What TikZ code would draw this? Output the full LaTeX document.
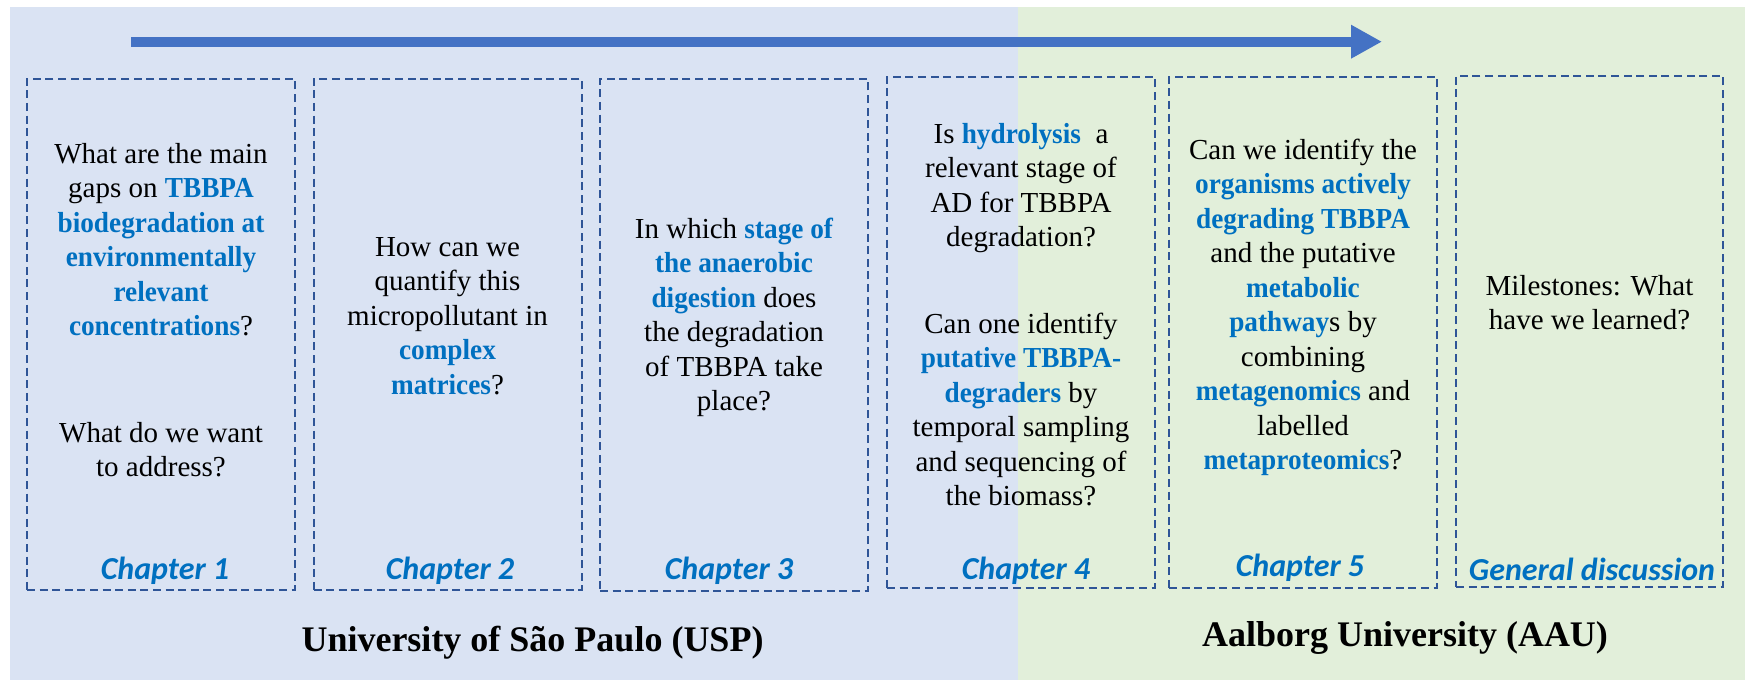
\documentclass[tikz,border=0pt]{standalone}
\usepackage{fontspec}
\setmainfont{Liberation Serif}
\newfontfamily\carl{Carlito}
\newfontfamily\hlfont{Liberation Serif}[FakeStretch=0.94]
\usetikzlibrary{arrows.meta}
\definecolor{bgblue}{RGB}{218,227,243}
\definecolor{bggreen}{RGB}{226,239,218}
\definecolor{arrowblue}{RGB}{68,114,196}
\definecolor{dashblue}{RGB}{47,85,151}
\definecolor{hl}{RGB}{0,112,192}
\newcommand{\hlt}[1]{\textcolor{hl}{\hlfont\bfseries #1}}
\begin{document}
\begin{tikzpicture}[x=0.5pt,y=-0.5pt,
  chbox/.style={draw=dashblue, line width=1pt, dash pattern=on 4pt off 2.3pt, minimum width=134pt, minimum height=255.5pt, inner sep=0pt},
  qtext/.style={align=center, font=\fontsize{14.5}{17.25}\selectfont, inner sep=0pt},
  chlabel/.style={font=\carl\bfseries\itshape\fontsize{16}{18}\selectfont, text=hl, inner sep=0pt},
  unilabel/.style={font=\bfseries\fontsize{18}{21}\selectfont, inner sep=0pt}]
\useasboundingbox (0,0) rectangle (1745,680);
% backgrounds
\fill[bgblue] (10,7) rectangle (1018,680);
\fill[bggreen] (1018,7) rectangle (1745,680);
% arrow
\coordinate (as) at (131,41.7);
\coordinate (ae) at (1382,41.7);
\draw[arrowblue, line width=5pt, -{Triangle[length=15.5pt,width=15.8pt]}] (as) -- (ae);
% boxes
\node[chbox] (b1) at (161,334.5) {};
\node[chbox] (b2) at (447.5,334.5) {};
\node[chbox, minimum height=256pt] (b3) at (734,335) {};
\node[chbox] (b4) at (1021,332.5) {};
\node[chbox] (b5) at (1303,332.5) {};
\node[chbox, minimum width=133.5pt] (b6) at (1589.5,331.5) {};
% texts
\node[qtext] (t1a) at (161,239.5) {What are the main\\gaps on \hlt{TBBPA}\\\hlt{biodegradation at}\\\hlt{environmentally}\\\hlt{relevant}\\\hlt{concentrations}?};
\node[qtext] (t1b) at (161,449.5) {What do we want\\to address?};
\node[qtext] (t2) at (447.5,316) {How can we\\quantify this\\micropollutant in\\\hlt{complex}\\\hlt{matrices}?};
\node[qtext] (t3) at (734,317.5) {In which \hlt{stage of}\\\hlt{the anaerobic}\\\hlt{digestion} does\\the degradation\\of TBBPA take\\place?};
\node[qtext] (t4a) at (1021,188) {Is \hlt{hydrolysis}\ \ a\\relevant stage of\\AD for TBBPA\\degradation?};
\node[qtext] (t4b) at (1021,409.5) {Can one identify\\\hlt{putative TBBPA-}\\\hlt{degraders} by\\temporal sampling\\and sequencing of\\the biomass?};
\node[qtext] (t5) at (1303,307.5) {Can we identify the\\\hlt{organisms actively}\\\hlt{degrading TBBPA}\\and the putative\\\hlt{metabolic}\\\hlt{pathway}s by\\combining\\\hlt{metagenomics} and\\labelled\\\hlt{metaproteomics}?};
\node[qtext] (t6) at (1589.5,302.5) {Milestones: What\\have we learned?};
% chapter labels
\node[chlabel] (c1) at (165,571) {Chapter 1};
\node[chlabel] (c2) at (450,571) {Chapter 2};
\node[chlabel] (c3) at (729,571) {Chapter 3};
\node[chlabel] (c4) at (1026,571) {Chapter 4};
\node[chlabel] (c5) at (1300,567.5) {Chapter 5};
\node[chlabel] (c6) at (1592,569) {General discussion};
% universities
\node[unilabel] (usp) at (532.5,643) {University of São Paulo (USP)};
\node[unilabel] (aau) at (1405,638) {Aalborg University (AAU)};
\end{tikzpicture}
\end{document}
